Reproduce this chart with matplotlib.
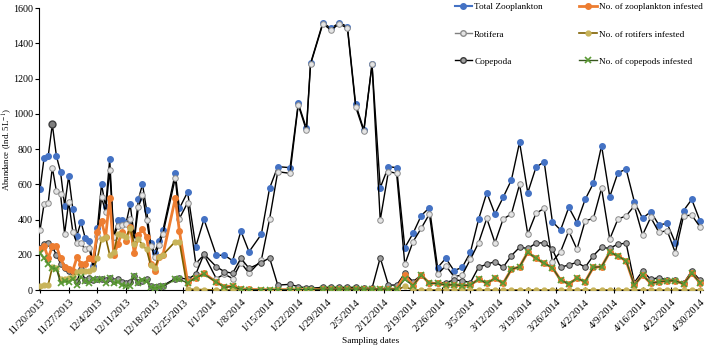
import matplotlib
matplotlib.use("Agg")
import matplotlib.pyplot as plt
from matplotlib.lines import Line2D
import numpy as np

plt.rcParams['font.family'] = ['Liberation Serif', 'DejaVu Serif']
plt.rcParams['mathtext.fontset'] = 'stix'

# sampling day, counted from 11/20/2013
days = [0, 1, 2, 3, 4, 5, 6, 7, 8, 9, 10, 11, 12, 13, 14, 15, 16, 17, 18, 19,
        20, 21, 22, 23, 24, 25, 26, 27, 28, 29, 30,
        33, 34, 36, 38, 40, 43, 45, 47, 49, 51, 54, 56, 58, 61, 63, 65, 66,
        69, 71, 73, 75, 77, 79, 81, 83, 85, 87, 89, 91, 93, 95, 97, 99, 101,
        103, 105, 107, 109, 111, 113, 115, 117, 119, 121, 123, 125, 127, 129,
        131, 133, 135, 137, 139, 141, 143, 145, 147, 149, 151, 153, 155, 157,
        159, 161]

total = [573, 751, 760, 940, 760, 671, 478, 647, 460, 308, 388, 297, 276, 135, 350, 600, 473, 741, 303, 397,
         395, 380, 486, 300, 515, 600, 454, 265, 212, 278, 340,
         662, 463, 555, 246, 401, 197, 197, 166, 335, 217, 316, 577, 700, 694, 1059, 917, 1286,
         1517, 1484, 1517, 1494, 1055, 908, 1282, 580, 700, 694, 240, 321, 422, 467, 127, 180, 110,
         128, 214, 401, 552, 431, 526, 624, 838, 552, 696, 728, 388, 340, 469,
         382, 514, 605, 819, 529, 666, 685, 501, 407, 444, 369, 378, 268, 450,
         514, 393]

rotifera = [340, 490, 495, 695, 560, 545, 320, 500, 330, 265, 265, 230, 240, 125, 305, 525, 445, 680, 300, 365,
            370, 375, 405, 280, 470, 540, 400, 250, 190, 255, 320,
            635, 405, 495, 150, 200, 65, 90, 65, 155, 95, 170, 401, 671, 662, 1050, 905, 1280,
            1510, 1475, 1510, 1485, 1040, 900, 1280, 397, 672, 662, 146, 274, 350, 431, 89, 138, 76,
            85, 174, 268, 406, 268, 403, 431, 599, 318, 435, 463, 161, 217, 335,
            231, 393, 406, 577, 289, 403, 420, 478, 312, 412, 327, 337, 212, 420,
            425, 359]

copepoda = [236, 259, 265, 246, 199, 150, 125, 110, 100, 45, 120, 55, 70, 55, 60, 65, 55, 70, 50, 60,
            45, 40, 45, 80, 45, 50, 60, 20, 15, 20, 25,
            65, 70, 60, 90, 204, 132, 104, 95, 180, 123, 155, 183, 28, 32, 19, 12, 10,
            15, 15, 15, 15, 15, 10, 10, 183, 28, 28, 95, 47, 85, 38, 38, 42, 57,
            53, 42, 129, 146, 161, 129, 195, 242, 236, 265, 269, 231, 129, 142,
            157, 129, 195, 242, 236, 261, 265, 42, 108, 61, 70, 57, 57, 38,
            108, 57]

inf_zoo = [230, 250, 180, 250, 250, 180, 130, 120, 110, 185, 150, 150, 180, 175, 330, 390, 300, 520, 200, 260,
           330, 280, 360, 210, 310, 345, 300, 150, 110, 185, 200,
           520, 335, 45, 70, 95, 45, 19, 23, 5, 3, 2, 2, 2, 2, 2, 2, 2,
           5, 5, 5, 5, 5, 5, 5, 5, 5, 5, 85, 25, 85, 38, 38, 28, 30,
           25, 28, 61, 38, 66, 38, 117, 132, 214, 180, 151, 127, 57, 34,
           66, 47, 129, 132, 214, 193, 165, 28, 85, 38, 47, 51, 53, 34,
           95, 42]

inf_rot = [25, 28, 30, 130, 125, 60, 60, 70, 75, 100, 110, 105, 110, 120, 180, 290, 300, 200, 215, 320,
           310, 300, 350, 260, 290, 255, 230, 140, 125, 185, 200,
           275, 275, 5, 3, 2, 0, 0, 0, 0, 0, 0, 0, 0, 0, 0, 0, 0,
           0, 0, 0, 0, 0, 0, 0, 0, 0, 0, 20, 0, 0, 0, 0, 0, 0,
           0, 0, 0, 0, 0, 0, 0, 0, 0, 0, 0, 0, 0, 0,
           0, 0, 0, 0, 0, 0, 0, 0, 0, 0, 0, 0, 0, 0,
           0, 0]

inf_cop = [210, 180, 150, 125, 120, 40, 50, 45, 65, 30, 75, 50, 40, 60, 55, 60, 40, 70, 40, 45,
           30, 25, 25, 80, 40, 55, 50, 15, 10, 15, 20,
           60, 60, 40, 70, 90, 45, 15, 20, 3, 2, 2, 2, 2, 2, 2, 2, 2,
           5, 5, 5, 5, 5, 5, 5, 5, 5, 5, 60, 25, 85, 38, 38, 28, 30,
           25, 28, 61, 38, 66, 38, 117, 132, 214, 180, 151, 127, 57, 34,
           66, 47, 129, 132, 214, 193, 165, 28, 85, 38, 47, 51, 53, 34,
           95, 42]

tick_days = [0, 7, 14, 21, 28, 35, 42, 49, 56, 63, 70, 77, 84, 91, 98, 105, 112,
             119, 126, 133, 140, 147, 154, 161]
tick_labels = ['11/20/2013', '11/27/2013', '12/4/2013', '12/11/2013', '12/18/2013',
               '12/25/2013', '1/1/2014', '1/8/2014', '1/15/2014', '1/22/2014',
               '1/29/2014', '2/5/2014', '2/12/2014', '2/19/2014', '2/26/2014',
               '3/5/2014', '3/12/2014', '3/19/2014', '3/26/2014', '4/2/2014',
               '4/9/2014', '4/16/2014', '4/23/2014', '4/30/2014']

c_blue = '#4472C4'
c_orange = '#ED7D31'
c_olive_line = '#7F6000'
c_olive_mk = '#C8B45A'
c_green_line = '#38571F'
c_green_mk = '#5B9A35'

fig = plt.figure(figsize=(7.07, 3.48), dpi=100)
ax = fig.add_axes([39 / 707, 58 / 348, 664 / 707, 282 / 348])

ms = 4
ax.plot(days, total, color='black', lw=1.0, marker='o', ms=ms,
        mfc=c_blue, mec=c_blue, zorder=2)
ax.plot(days, rotifera, color='black', lw=1.0, marker='o', ms=ms,
        mfc='#E4E4E4', mec='#8C8C8C', mew=0.7, zorder=3)
ax.plot(days, copepoda, color='black', lw=1.0, marker='o', ms=ms,
        mfc='#A0A0A0', mec='#3A3A3A', mew=0.7, zorder=4)
# peak of total drawn with a dark marker as in the original
ipk = int(np.argmax(total[:31]))
ax.plot(days[ipk], total[ipk], marker='o', ms=ms + 1, mfc='#7F7F7F',
        mec='#404040', zorder=4)
ax.plot(days, inf_zoo, color=c_orange, lw=2.0, marker='o', ms=ms,
        mfc=c_orange, mec=c_orange, zorder=5)
ax.plot(days, inf_rot, color=c_olive_line, lw=1.2, marker='o', ms=3.5,
        mfc=c_olive_mk, mec=c_olive_mk, zorder=6)
ax.plot(days, inf_cop, color=c_green_line, lw=1.0, marker='x', ms=4,
        mec=c_green_mk, mew=1.2, zorder=7)

ax.set_xlim(-0.25, 161.75)
ax.set_ylim(0, 1600)
ax.set_yticks(range(0, 1601, 200))
ax.set_xticks(tick_days)
ax.set_xticklabels(tick_labels, rotation=45, ha='right', rotation_mode='anchor')
ax.tick_params(axis='both', width=0.8, color='black')
ax.tick_params(axis='x', labelsize=7.5, direction='inout', length=5, pad=3)
ax.tick_params(axis='y', labelsize=7.2, direction='out', length=3, pad=1.5)
for s in ['top', 'right']:
    ax.spines[s].set_visible(False)
for s in ['left', 'bottom']:
    ax.spines[s].set_linewidth(0.8)

ax.set_ylabel('Abundance (Ind. 5L$^{-1}$)', fontsize=6.3)
ax.yaxis.set_label_coords(-0.037, 0.5)
ax.set_xlabel('Sampling dates', fontsize=6.7)
ax.xaxis.set_label_coords(0.5, -0.165)

handles = [
    Line2D([], [], color=c_blue, lw=1.5, marker='o', ms=ms, mfc=c_blue, mec=c_blue),
    Line2D([], [], color='#7F7F7F', lw=1.0, marker='o', ms=ms, mfc='#E4E4E4', mec='#8C8C8C'),
    Line2D([], [], color='black', lw=1.0, marker='o', ms=ms, mfc='#A0A0A0', mec='#3A3A3A'),
    Line2D([], [], color=c_orange, lw=2.0, marker='o', ms=ms, mfc=c_orange, mec=c_orange),
    Line2D([], [], color=c_olive_line, lw=1.2, marker='o', ms=3.5, mfc=c_olive_mk, mec=c_olive_mk),
    Line2D([], [], color=c_green_line, lw=1.0, marker='x', ms=4, mec=c_green_mk, mew=1.2),
]
labels = ['Total Zooplankton', 'Rotifera', 'Copepoda',
          'No. of zooplankton infested', 'No. of rotifers infested',
          'No. of copepods infested']
fig.legend(handles, labels, loc='upper left', bbox_to_anchor=(450 / 707, 1.005),
           ncol=2, fontsize=6.7, frameon=False, handlelength=1.9,
           labelspacing=2.0, columnspacing=3.9, handletextpad=0.2, borderpad=0)

fig.savefig('out.png', dpi=100)
